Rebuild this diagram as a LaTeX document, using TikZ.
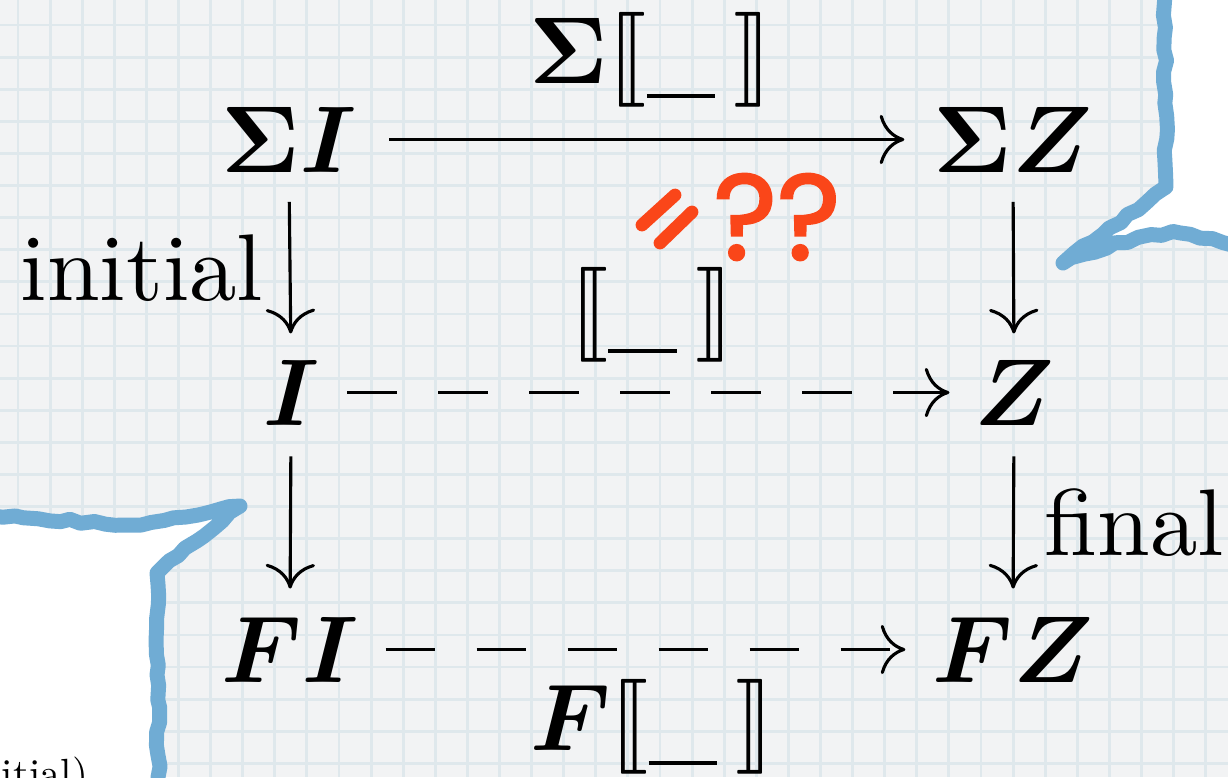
\documentclass[tikz,border=0pt]{standalone}
\usepackage{fontspec}
\usepackage{amsmath,bm,stmaryrd}
\newfontfamily\qfont{Poppins}[FakeBold=2]
\usetikzlibrary{arrows.meta,decorations.pathmorphing}
\definecolor{bgc}{RGB}{242,243,244}
\definecolor{gridc}{RGB}{223,232,236}
\definecolor{chalk}{RGB}{112,172,212}
\definecolor{alertc}{RGB}{250,70,25}
\newcommand{\semb}{\llbracket\rule[-0.16em]{0.72em}{0.045em}\hspace{0.2em}\rrbracket}
\begin{document}
\begin{tikzpicture}[x=0.003704cm,y=-0.003704cm,
  obj/.style={anchor=base,inner sep=0pt,font=\normalsize},
  arr/.style={line width=0.33pt,-{Computer Modern Rightarrow[length=2.6pt,width=5.2pt]}},
  dasharr/.style={arr,dash pattern=on 5.2pt off 4.4pt},
  gridline/.style={gridc,line width=0.3pt},
  chalkline/.style={chalk,line width=1.58pt,line join=round,line cap=round,
    decorate,decoration={random steps,segment length=1.2pt,amplitude=0.22pt}},
  slash/.style={alertc,line width=1.35pt,line cap=round}]
\useasboundingbox (0,0) rectangle (1228,777);
\clip (0,0) rectangle (1228,777);
\fill[bgc] (0,0) rectangle (1228,777);
\foreach \k in {0,...,38} \draw[gridline] ({18+32.1*\k},0) -- ({18+32.1*\k},777);
\foreach \k in {0,...,24} \draw[gridline] (0,{25+32.1*\k}) -- (1228,{25+32.1*\k});
% white paper regions
\fill[white] (1164,-20) -- (1166,187) -- (1063,263) .. controls (1100,248) and (1140,235) .. (1180,233) -- (1240,247) -- (1240,-20) -- cycle;
\draw[chalkline] (1164,-20) -- (1166,187) -- (1063,263) .. controls (1100,248) and (1140,235) .. (1180,233) -- (1240,247);
\fill[white] (-20,514) -- (130,525) -- (240,506) -- (157,573) -- (159,800) -- (-20,800) -- cycle;
\draw[chalkline] (-20,514) -- (130,525) -- (240,506) -- (157,573) -- (159,800);
\node[anchor=base west,inner sep=0pt,font=\normalsize,scale=0.43,transform shape] (cut) at (1,787) {itial)};
% objects
\node[obj] (SI) at (289,172) {$\bm{\Sigma I}$};
\node[obj] (SZ) at (1013,172) {$\bm{\Sigma Z}$};
\node[obj] (I) at (291,425) {$\bm{I}$};
\node[obj] (Z) at (1014,425) {$\bm{Z}$};
\node[obj] (FI) at (290,682) {$\bm{FI}$};
\node[obj] (FZ) at (1013,682) {$\bm{FZ}$};
% labels
\node[obj] (topl) at (651,83) {$\bm{\Sigma}\semb$};
\node[obj] (midl) at (652,338) {$\semb$};
\node[obj] (botl) at (652,750) {$\bm{F}\semb$};
\node[anchor=base east,inner sep=0pt] (ini) at (265,300) {initial};
\node[anchor=base west,inner sep=0pt] (fin) at (1043,555) {final};
% arrows
\draw[arr,shorten <=3.3pt,shorten >=2.9pt] (SI.east) -- (SZ.west);
\draw[arr,shorten <=2.95pt,shorten >=2.6pt] (SI.south) -- (I.north);
\draw[arr,shorten <=2.95pt,shorten >=2.6pt] (SZ.south) -- (Z.north);
\draw[arr,shorten <=3.1pt,shorten >=2.8pt] (I.south) -- (FI.north);
\draw[arr,shorten <=3.1pt,shorten >=2.8pt] (Z.south) -- (FZ.north);
\draw[dasharr,shorten <=2.8pt,shorten >=2.4pt] (I.east) -- (Z.west);
\draw[dasharr,shorten <=2.7pt,shorten >=2.7pt] (FI.east) -- (FZ.west);
% red remark
\draw[slash] (642,225) -- (675,195);
\draw[slash] (660,243) -- (692,212);
\node[inner sep=0pt,text=alertc,font=\qfont\fontsize{12.8}{14}\selectfont] (qq) at (777,217) {??};
\end{tikzpicture}
\end{document}
